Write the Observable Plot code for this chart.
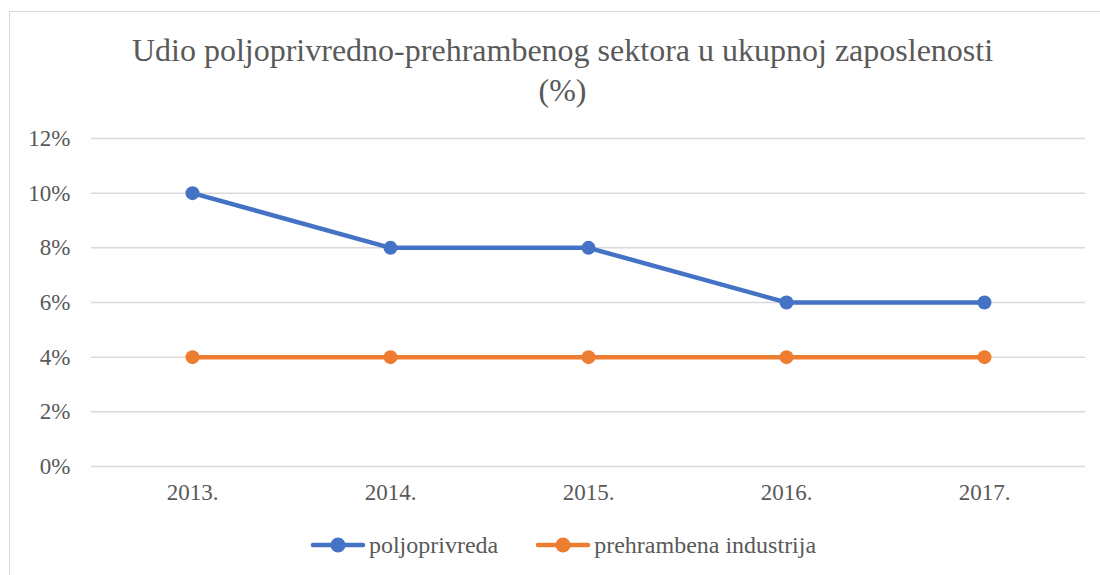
<!DOCTYPE html>
<html><head><meta charset="utf-8">
<script src="https://cdn.jsdelivr.net/npm/d3@7"></script>
<script src="https://cdn.jsdelivr.net/npm/@observablehq/plot@0.6"></script>
<style>
body{margin:0;background:#fff;}
#wrap{position:relative;width:1100px;height:575px;overflow:hidden;font-family:"Liberation Serif",serif;color:#595959;}
#frame{position:absolute;left:9px;top:11px;width:1105px;height:580px;border:1.5px solid #d9d9d9;box-sizing:border-box;}
#title{position:absolute;left:0;width:1125px;top:30px;text-align:center;font-size:32px;line-height:40px;}
#plot{position:absolute;left:0;top:0;}
#plot svg text{font-family:"Liberation Serif",serif !important;font-size:23px !important;}
#legend{position:absolute;top:530px;left:0;width:1126px;height:30px;display:flex;justify-content:center;align-items:center;gap:37px;font-size:24px;line-height:30px;}
.item{display:flex;align-items:center;gap:3px;}
</style></head>
<body>
<div id="wrap">
<div id="frame"></div>
<div id="plot"></div>
<div id="title">Udio poljoprivredno-prehrambenog sektora u ukupnoj zaposlenosti<br>(%)</div>
<div id="legend"></div>
</div>
<script>
const years = ["2013.", "2014.", "2015.", "2016.", "2017."];
const seriesNames = ["poljoprivreda", "prehrambena industrija"];
const poljoprivreda = [10, 8, 8, 6, 6];
const prehrambena = [4, 4, 4, 4, 4];
const colors = ["#4472C4", "#ED7D31"];
const yTicks = [0, 2, 4, 6, 8, 10, 12];

const data = [];
years.forEach((y, i) => data.push({year: y, value: poljoprivreda[i], series: seriesNames[0]}));
years.forEach((y, i) => data.push({year: y, value: prehrambena[i], series: seriesNames[1]}));

const chart = Plot.plot({
  width: 1100, height: 575,
  marginTop: 138, marginBottom: 109, marginLeft: 91, marginRight: 15,
  style: {fontSize: "23px", color: "#595959", background: "transparent"},
  x: {type: "point", domain: years, padding: 0.5, label: null},
  y: {domain: [0, 12], label: null},
  color: {domain: seriesNames, range: colors},
  marks: [
    Plot.gridY(yTicks, {stroke: "#d9d9d9", strokeOpacity: 1, strokeWidth: 1.5}),
    Plot.axisY(yTicks, {tickSize: 0, tickPadding: 21, tickFormat: d => d + "%", fill: "#595959"}),
    Plot.axisX({tickSize: 0, tickPadding: 17, fill: "#595959"}),
    Plot.line(data, {x: "year", y: "value", z: "series", stroke: "series", strokeWidth: 4.5}),
    Plot.dot(data, {x: "year", y: "value", fill: "series", r: 7})
  ]
});
document.getElementById("plot").appendChild(chart);

const legend = document.getElementById("legend");
seriesNames.forEach((n, i) => {
  const item = document.createElement("div");
  item.className = "item";
  item.innerHTML = `<svg width="56" height="20" style="display:block"><line x1="3" x2="53" y1="10" y2="10" stroke="${colors[i]}" stroke-width="4.5" stroke-linecap="round"/><circle cx="28" cy="10" r="7.5" fill="${colors[i]}"/></svg><span>${n}</span>`;
  legend.appendChild(item);
});
</script>
</body></html>
